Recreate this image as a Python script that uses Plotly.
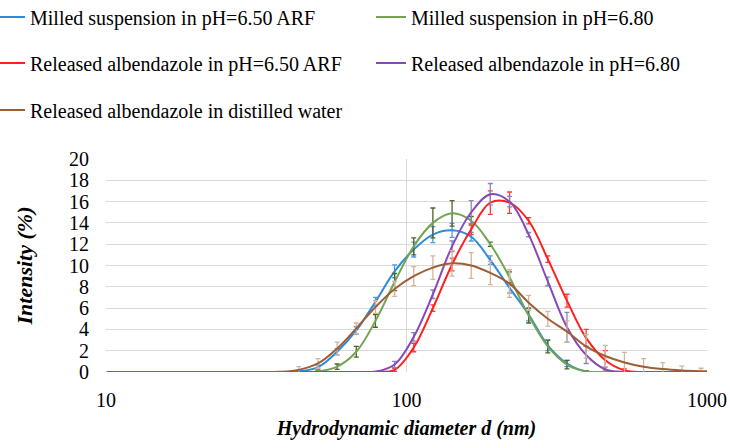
import plotly.graph_objects as go

# Hydrodynamic diameter bins (nm)
diameter = [10.1, 11.7, 13.54, 15.69, 18.17, 21.04, 24.36, 28.21, 32.67, 37.84,
            43.82, 50.75, 58.77, 68.06, 78.82, 91.28, 105.7, 122.4, 141.8, 164.2,
            190.1, 220.2, 255.0, 295.3, 342.0, 396.1, 458.7, 531.2, 615.1, 712.4,
            825.0, 955.4, 1106.0]

names = ["Milled suspension in pH=6.50 ARF",
         "Milled suspension in pH=6.80",
         "Released albendazole in pH=6.50 ARF",
         "Released albendazole in pH=6.80",
         "Released albendazole in distilled water"]

milled_650 = [0, 0, 0, 0, 0, 0, 0, 0, 0, 0,
              0.05, 0.45, 1.9, 3.9, 6.6, 9.45, 11.5, 12.9, 13.3, 12.7,
              10.5, 7.9, 5.4, 2.5, 0.8, 0.05, 0, 0, 0, 0, 0, 0, 0]
milled_650_err = [0, 0, 0, 0, 0, 0, 0, 0, 0, 0,
                  0.1, 0.2, 0.3, 0.35, 0.4, 0.6, 0.7, 0.75, 0.65, 0.4,
                  0.4, 0.5, 0.6, 0.5, 0.3, 0.05, 0, 0, 0, 0, 0, 0, 0]

milled_680 = [0, 0, 0, 0, 0, 0, 0, 0, 0, 0,
              0, 0.05, 0.5, 1.9, 4.8, 8.45, 11.8, 14.0, 14.9, 14.2,
              12.0, 8.9, 5.3, 2.4, 0.7, 0.05, 0, 0, 0, 0, 0, 0, 0]
milled_680_err = [0, 0, 0, 0, 0, 0, 0, 0, 0, 0,
                  0, 0.05, 0.25, 0.5, 0.6, 0.8, 0.8, 1.4, 1.2, 0.4,
                  0.2, 0.5, 0.7, 0.6, 0.4, 0.05, 0, 0, 0, 0, 0, 0, 0]

released_650 = [0, 0, 0, 0, 0, 0, 0, 0, 0, 0,
                0, 0, 0, 0, 0.02, 0.2, 2.3, 6.0, 10.1, 13.4,
                15.9, 15.9, 14.2, 10.6, 6.7, 3.2, 1.1, 0.15, 0, 0, 0, 0, 0]
released_650_err = [0, 0, 0, 0, 0, 0, 0, 0, 0, 0,
                    0, 0, 0, 0, 0.02, 0.15, 0.4, 0.3, 0.6, 0.5,
                    1.1, 1.0, 0.3, 0.3, 0.6, 0.8, 0.9, 0.15, 0, 0, 0, 0, 0]

released_680 = [0, 0, 0, 0, 0, 0, 0, 0, 0, 0,
                0, 0, 0, 0, 0.02, 0.7, 3.3, 7.3, 11.8, 15.0,
                16.7, 16.0, 12.9, 8.5, 4.2, 1.6, 0.25, 0, 0, 0, 0, 0, 0]
released_680_err = [0, 0, 0, 0, 0, 0, 0, 0, 0, 0,
                    0, 0, 0, 0, 0.02, 0.3, 0.4, 0.4, 0.5, 1.1,
                    1.0, 0.5, 0.2, 0.4, 1.4, 0.8, 0.2, 0, 0, 0, 0, 0, 0]

released_water = [0, 0, 0, 0, 0, 0, 0, 0, 0, 0.02,
                  0.2, 0.8, 2.2, 4.1, 6.1, 7.8, 9.0, 9.8, 10.2, 10.0,
                  9.3, 8.3, 6.5, 5.0, 3.8, 2.4, 1.5, 0.9, 0.5, 0.28,
                  0.15, 0.08, 0.04]
released_water_err = [0, 0, 0, 0, 0, 0, 0, 0, 0, 0.02,
                      0.3, 0.45, 0.6, 0.5, 0.6, 0.7, 0.9, 1.1, 1.2, 1.2,
                      1.1, 1.3, 0.7, 0.7, 1.0, 1.1, 1.0, 0.95, 0.75, 0.6,
                      0.4, 0.27, 0.1]

series = [milled_650, milled_680, released_650, released_680, released_water]
errors = [milled_650_err, milled_680_err, released_650_err, released_680_err, released_water_err]
line_colors = ["#2f8ad8", "#73a453", "#ff1f1f", "#8549ba", "#9e5d34"]
err_colors = ["#4b9be0", "#4f6228", "#ff3b3b", "#8a85b8", "#d9b39a"]
legend_ids = ["legend", "legend2", "legend3", "legend4", "legend5"]

x_ticks = [10, 100, 1000]
y_ticks = [0, 2, 4, 6, 8, 10, 12, 14, 16, 18, 20]

FONT = "Liberation Serif, Times New Roman, serif"

fig = go.Figure()
for name, ys, es, lc, ec, lg in zip(names, series, errors, line_colors, err_colors, legend_ids):
    fig.add_trace(go.Scatter(
        x=diameter, y=ys, name=name, mode="lines",
        line=dict(color=lc, width=2, shape="spline", smoothing=1.0),
        error_y=dict(type="data", array=es, visible=True, color=ec, thickness=1.3, width=2.5),
        legend=lg,
    ))

# plot area: x 106..707 px, y 159..372 px
leg_common = dict(xref="paper", yref="paper", xanchor="left", yanchor="middle",
                  font=dict(family=FONT, size=20, color="#000000"),
                  bgcolor="rgba(0,0,0,0)", borderwidth=0, itemwidth=30)
col_x = [(-10 - 106) / 601, (371 - 106) / 601]
row_y = [(372 - 17) / 213, (372 - 63) / 213, (372 - 110) / 213]
positions = [(col_x[0], row_y[0]), (col_x[1], row_y[0]), (col_x[0], row_y[1]),
             (col_x[1], row_y[1]), (col_x[0], row_y[2])]

layout_legends = {}
for lg, (lx, ly) in zip(legend_ids, positions):
    layout_legends[lg] = dict(x=lx, y=ly, **leg_common)

fig.update_layout(
    width=730, height=448,
    margin=dict(l=106, r=23, t=159, b=76, autoexpand=False),
    paper_bgcolor="white", plot_bgcolor="white",
    font=dict(family=FONT, color="#000000"),
    showlegend=True,
    **layout_legends,
)

fig.update_xaxes(
    type="log", range=[1, 3],
    tickvals=x_ticks, ticktext=[str(v) for v in x_ticks],
    showgrid=True, gridcolor="#d9d9d9", gridwidth=1,
    zeroline=False, showline=False, ticks="",
    tickfont=dict(family=FONT, size=20, color="#000000"),
    ticklabelstandoff=14,
    title=dict(text="<b><i>Hydrodynamic diameter d (nm)</i></b>",
               font=dict(family=FONT, size=20, color="#000000"), standoff=10),
)
fig.update_yaxes(
    range=[0, 20], tickvals=y_ticks,
    showgrid=True, gridcolor="#d9d9d9", gridwidth=1,
    zeroline=False, showline=False, ticks="",
    tickfont=dict(family=FONT, size=20, color="#000000"),
    ticklabelstandoff=16,
    title=dict(text="<b><i>Intensity (%)</i></b>",
               font=dict(family=FONT, size=22, color="#000000"), standoff=30),
)

fig.write_html("out.html")
